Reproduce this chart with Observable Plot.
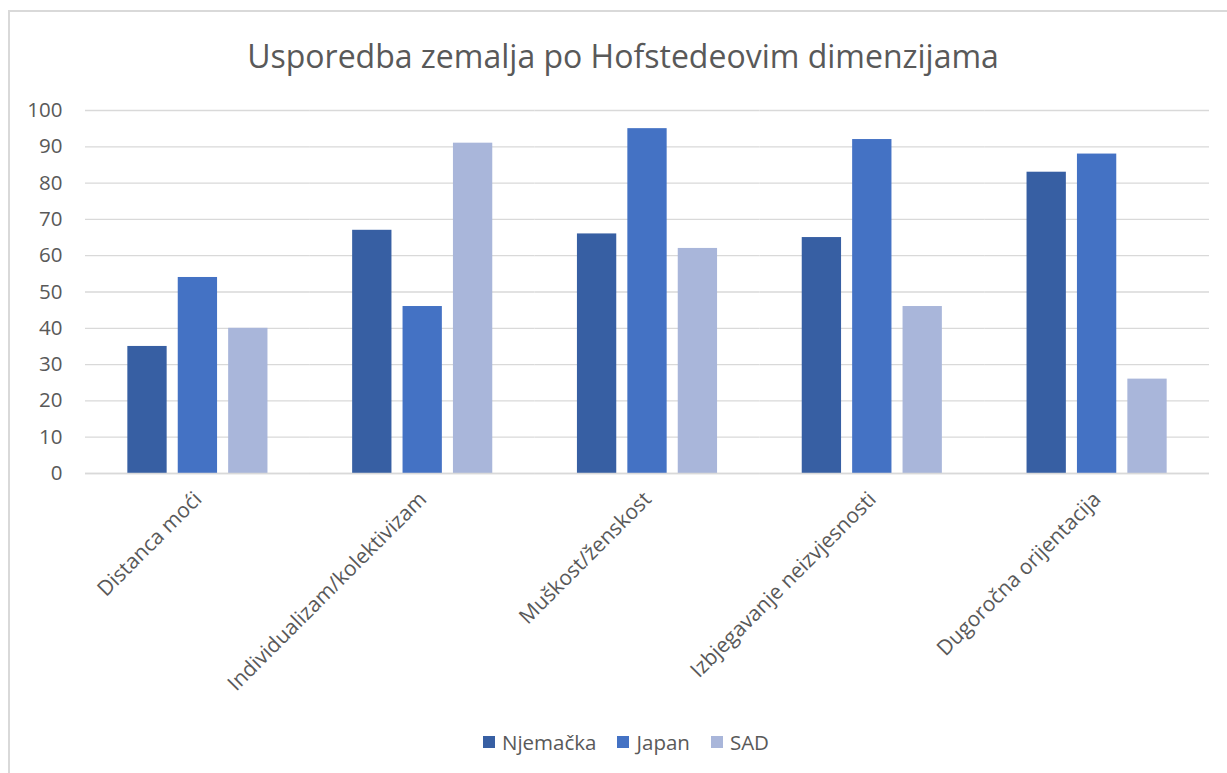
<!DOCTYPE html>
<html>
<head>
<meta charset="utf-8">
<script src="https://cdn.jsdelivr.net/npm/d3@7"></script>
<script src="https://cdn.jsdelivr.net/npm/@observablehq/plot@0.6"></script>
<style>
  html, body { margin: 0; padding: 0; background: #fff; }
  body { width: 1227px; height: 773px; position: relative; overflow: hidden; font-family: "Open Sans", sans-serif; color: #595959; }
  #frame { position: absolute; left: 8px; top: 10px; width: 1240px; height: 800px; border-top: 2px solid #d9d9d9; border-left: 2px solid #d9d9d9; }
  #title { position: absolute; left: 0; width: 1246px; top: 34px; text-align: center; font-size: 32px; line-height: 44px; color: #595959; }
  #chart { position: absolute; left: 0; top: 90px; }
  #legend { position: absolute; left: 483px; top: 728px; display: flex; align-items: center; font-size: 20.5px; line-height: 28px; color: #595959; }
  #legend .item { display: flex; align-items: center; margin-right: 21px; }
  #legend .sw { width: 12px; height: 12px; margin-right: 7px; }
</style>
</head>
<body>
<div id="frame"></div>
<div id="title">Usporedba zemalja po Hofstedeovim dimenzijama</div>
<div id="chart"></div>
<div id="legend"></div>
<script>
const categories = ["Distanca moći", "Individualizam/kolektivizam", "Muškost/ženskost", "Izbjegavanje neizvjesnosti", "Dugoročna orijentacija"];
const series = ["Njemačka", "Japan", "SAD"];
const njemacka = [35, 67, 66, 65, 83];
const japan = [54, 46, 95, 92, 88];
const sad = [40, 91, 62, 46, 26];
const colors = ["#375FA3", "#4472C4", "#A9B6DA"];
const yTicks = [0, 10, 20, 30, 40, 50, 60, 70, 80, 90, 100];

const valuesBySeries = [njemacka, japan, sad];
const data = [];
categories.forEach((c, i) => {
  series.forEach((s, j) => data.push({category: c, series: s, value: valuesBySeries[j][i]}));
});

const chart = Plot.plot({
  width: 1227,
  height: 630,
  marginLeft: 85,
  marginRight: 18,
  marginTop: 20,
  marginBottom: 247,
  style: {fontFamily: "Open Sans, sans-serif", color: "#595959", background: "transparent"},
  fx: {domain: categories, padding: 0, round: false, axis: null},
  x: {domain: series, paddingInner: 0.22, paddingOuter: 0.84, round: false, axis: null},
  y: {domain: [0, 100], ticks: yTicks},
  color: {domain: series, range: colors},
  marks: [
    Plot.gridY(yTicks, {stroke: "#d9d9d9", strokeOpacity: 1, strokeWidth: 1.3}),
    Plot.axisY(yTicks, {tickSize: 0, tickPadding: 23, fontSize: 20.5, fill: "#595959", label: null}),
    Plot.barY(data, {fx: "category", x: "series", y: "value", fill: "series", inset: 0}),
    Plot.ruleY([0], {stroke: "#d9d9d9", strokeWidth: 1.5}),
    Plot.text(categories, {fx: d => d, text: d => d, frameAnchor: "bottom", rotate: -45, textAnchor: "end", dx: 5, dy: 27, fontSize: 21, fill: "#595959"})
  ]
});
document.getElementById("chart").appendChild(chart);

const legend = document.getElementById("legend");
series.forEach((s, i) => {
  const item = document.createElement("div");
  item.className = "item";
  const sw = document.createElement("span");
  sw.className = "sw";
  sw.style.background = colors[i];
  const label = document.createElement("span");
  label.textContent = s;
  item.appendChild(sw);
  item.appendChild(label);
  legend.appendChild(item);
});
</script>
</body>
</html>
